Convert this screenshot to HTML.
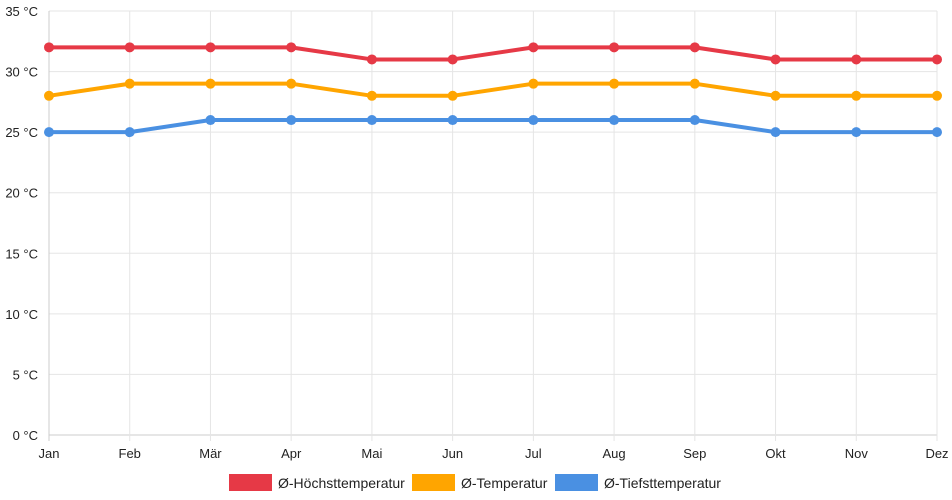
<!DOCTYPE html>
<html><head><meta charset="utf-8"><style>
html,body{margin:0;padding:0;background:#fff;}
svg{display:block;font-family:"Liberation Sans",sans-serif;}
</style></head><body>
<svg id="chart" width="952" height="500"></svg>
<script>
const categories=["Jan","Feb","Mär","Apr","Mai","Jun","Jul","Aug","Sep","Okt","Nov","Dez"];
const highTemps=[32,32,32,32,31,31,32,32,32,31,31,31];
const avgTemps=[28,29,29,29,28,28,29,29,29,28,28,28];
const lowTemps=[25,25,26,26,26,26,26,26,26,25,25,25];
const yTicks=[0,5,10,15,20,25,30,35];
const seriesNames=["Ø-Höchsttemperatur","Ø-Temperatur","Ø-Tiefsttemperatur"];
const colors=["#e63946","#ffa500","#4a90e2"];
const NS="http://www.w3.org/2000/svg";
const svg=document.getElementById('chart');
const x0=49,x1=937,yTop=11,yBot=435,yMax=35;
const xs=i=>x0+(x1-x0)*i/(categories.length-1);
const ys=v=>yBot-(yBot-yTop)*v/yMax;
function mk(t,a,p){const e=document.createElementNS(NS,t);for(const k in a)e.setAttribute(k,a[k]);(p||svg).appendChild(e);return e;}
yTicks.forEach(v=>{
  const l=mk('line',{x1:x0,x2:x1,y1:ys(v),y2:ys(v),stroke:v===0?'#cccccc':'#e5e5e5','stroke-width':1});
  
  
  const t=mk('text',{x:38,y:ys(v)+5,'text-anchor':'end','font-size':13,fill:'#222'});
  t.textContent=v+' °C';
  
  
});
categories.forEach((c,i)=>{
  const l=mk('line',{x1:xs(i),x2:xs(i),y1:yTop,y2:yBot+6,stroke:i===0?'#cccccc':'#e5e5e5','stroke-width':1});
  
  
  const t=mk('text',{x:xs(i),y:458,'text-anchor':'middle','font-size':13,fill:'#222'});
  t.textContent=c;
  
  
});
[highTemps,avgTemps,lowTemps].forEach((s,k)=>{
  const g=mk('g',{});
  
  
  const p=mk('polyline',{points:s.map((v,i)=>xs(i)+','+ys(v)).join(' '),fill:'none',stroke:colors[k],'stroke-width':4,'stroke-linejoin':'round'},g);
  
  
  s.forEach((v,i)=>{
    const c=mk('circle',{cx:xs(i),cy:ys(v),r:5,fill:colors[k]},g);
    
    
  });
});
const legX=[229,412,555];
seriesNames.forEach((n,k)=>{
  const g=mk('g',{});
  
  
  mk('rect',{x:legX[k],y:474,width:43,height:17,fill:colors[k]},g);
  const t=mk('text',{x:legX[k]+49,y:488,'font-size':14,fill:'#222'},g);
  t.textContent=n;
});
</script>
</body></html>
